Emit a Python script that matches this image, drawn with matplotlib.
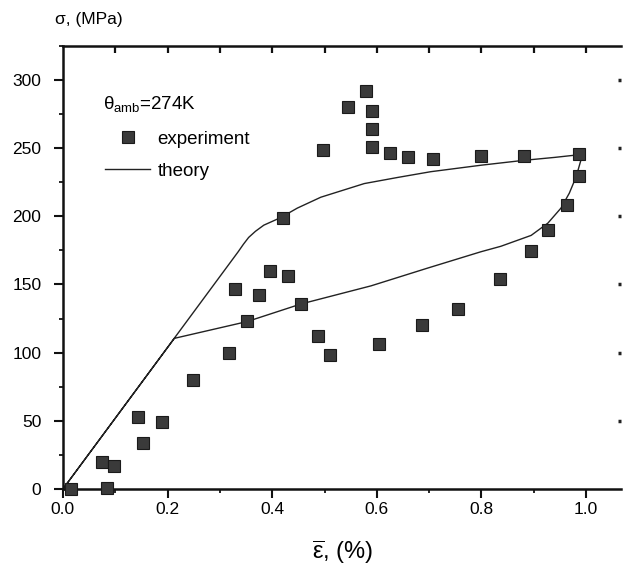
import matplotlib
matplotlib.use("Agg")
from matplotlib import pyplot as plt
from matplotlib.ticker import MultipleLocator, FixedLocator

plt.rcParams['font.family'] = ['Liberation Sans', 'DejaVu Sans']
plt.rcParams['mathtext.fontset'] = 'custom'
plt.rcParams['mathtext.rm'] = 'Liberation Sans'
plt.rcParams['mathtext.it'] = 'Liberation Sans'

# experiment points (strain %, stress MPa)
exp_strain = [0.015, 0.074, 0.085, 0.097, 0.143, 0.154, 0.189, 0.248, 0.317, 0.328,
              0.351, 0.374, 0.396, 0.420, 0.431, 0.455, 0.488, 0.498, 0.511, 0.544,
              0.580, 0.590, 0.590, 0.591, 0.604, 0.626, 0.660, 0.686, 0.707, 0.756,
              0.800, 0.835, 0.881, 0.894, 0.928, 0.963, 0.986, 0.986]
exp_stress = [0, 20, 1, 17, 53, 34, 49, 80, 100, 146.5,
              123, 142, 160, 199, 156, 136, 112.5, 248.7, 98, 280.5,
              292, 277.5, 264, 251, 106.4, 246.7, 243.8, 120, 242.3, 132,
              244.3, 154, 244.3, 174.5, 190, 208, 229.6, 245.6]

# theory loop: loading, transformation, unloading
th_strain = [0.0, 0.335, 0.345, 0.355, 0.368, 0.384, 0.416, 0.448, 0.493, 0.576,
             0.640, 0.703, 0.800, 0.880, 0.940, 0.995,
             0.990, 0.981, 0.968, 0.952, 0.927, 0.895, 0.837, 0.799, 0.697,
             0.589, 0.455, 0.352, 0.213, 0.0]
th_stress = [0, 174, 179.5, 184.5, 189, 193.5, 199, 206, 214, 224,
             228.5, 232.7, 237.5, 241, 243.2, 245.5,
             241, 229, 217, 206, 195, 186, 178, 174, 162,
             149, 135.7, 122.8, 110.5, 0]

top_ticks = [0.1, 0.2, 0.3, 0.4, 0.5, 0.6, 0.7, 0.8, 0.9, 1.0]
right_ticks = [50, 100, 150, 200, 250, 300]
theta_text = r'$\theta_{\rm amb}$=274K'

fig = plt.figure(figsize=(6.23, 5.66), dpi=100)
rect = [0.101, 0.136, 0.896, 0.783]
ax = fig.add_axes(rect)

ax.plot(exp_strain, exp_stress, 's', ms=8, color='#3a3a3a', mec='#1a1a1a', mew=0.8,
        clip_on=False, zorder=3, label='experiment')
ax.plot(th_strain, th_stress, '-', color='#222222', lw=1.0, label='theory')

ax.set_xlim(0, 1.067)
ax.set_ylim(0, 325)
ax.xaxis.set_major_locator(MultipleLocator(0.2))
ax.xaxis.set_minor_locator(MultipleLocator(0.1))
ax.yaxis.set_major_locator(MultipleLocator(50))
ax.yaxis.set_minor_locator(MultipleLocator(25))
ax.xaxis.set_major_formatter(plt.FormatStrFormatter('%.1f'))

for s in ['left', 'bottom', 'top']:
    ax.spines[s].set_linewidth(1.8)
    ax.spines[s].set_color('#111111')
ax.spines['right'].set_visible(False)

ax.tick_params(axis='both', which='major', labelsize=12.5, width=1.5, color='#111111')
ax.tick_params(axis='x', which='major', direction='out', length=6.5, pad=3)
ax.tick_params(axis='x', which='minor', direction='out', length=3, width=1.2)
ax.tick_params(axis='y', which='major', direction='out', length=6.5, pad=9)
ax.tick_params(axis='y', which='minor', direction='out', length=3, width=1.2)

fig.text(0.088, 0.965, 'σ, (MPa)', fontsize=12.5, ha='left', va='center')
ax.set_xlabel(r'$\overline{\mathrm{\varepsilon}}$, (%)', fontsize=17, labelpad=15)

ax.text(0.072, 0.869, theta_text, transform=ax.transAxes, fontsize=13.5,
        ha='left', va='center')
ax.legend(loc='upper left', frameon=False, fontsize=13.5, handlelength=2.4,
          handletextpad=0.4, labelspacing=0.8, borderpad=0, borderaxespad=0,
          bbox_to_anchor=(0.0755, 0.809))

# overlay axes: inward ticks on top edge every 0.1, small dots on right edge
ov = fig.add_axes(rect, facecolor='none')
ov.set_xlim(ax.get_xlim())
ov.set_ylim(ax.get_ylim())
ov.xaxis.tick_top()
ov.yaxis.tick_right()
ov.xaxis.set_major_locator(FixedLocator(top_ticks))
ov.yaxis.set_major_locator(FixedLocator(right_ticks))
ov.tick_params(axis='x', direction='in', length=5, width=1.6, colors='#111111',
               labeltop=False, labelbottom=False)
ov.tick_params(axis='y', direction='in', length=2.5, width=2.5, colors='#222222',
               labelright=False, labelleft=False)
for s in ov.spines.values():
    s.set_visible(False)

fig.savefig('out.png', dpi=100)
